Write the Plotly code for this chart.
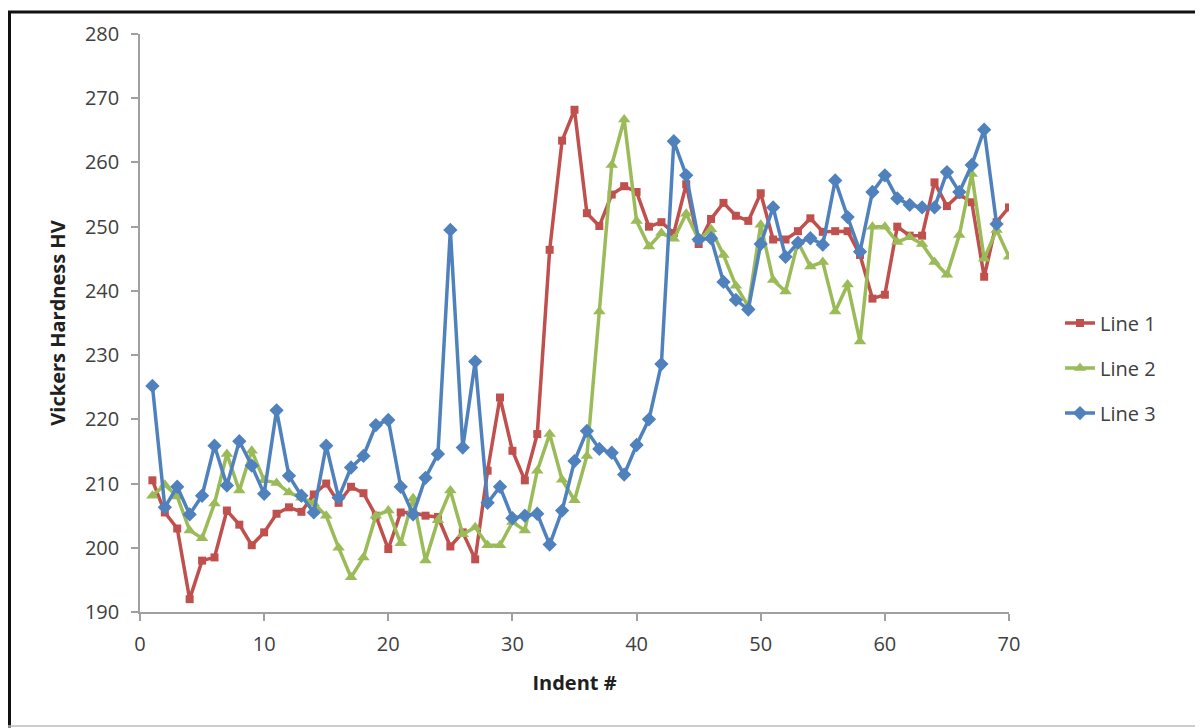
import plotly.graph_objects as go

indent = list(range(1, 71))

line1 = [210.5, 205.5, 203.0, 192.0, 198.0, 198.5, 205.8, 203.6, 200.4, 202.4,
         205.3, 206.3, 205.6, 208.3, 210.0, 207.0, 209.5, 208.5, 205.0, 199.8,
         205.5, 205.5, 205.0, 204.8, 200.2, 202.4, 198.2, 212.0, 223.4, 215.1,
         210.5, 217.7, 246.4, 263.4, 268.2, 252.1, 250.1, 255.0, 256.3, 255.4,
         250.0, 250.7, 249.0, 256.6, 247.3, 251.2, 253.7, 251.7, 250.9, 255.2,
         248.0, 248.0, 249.3, 251.3, 249.2, 249.3, 249.3, 245.6, 238.8, 239.4,
         250.0, 248.6, 248.6, 256.9, 253.2, 255.0, 253.8, 242.2, 250.7, 253.0]

line2 = [208.1, 209.8, 208.0, 202.7, 201.5, 206.9, 214.6, 208.9, 215.1, 210.5,
         210.1, 208.6, 207.8, 206.9, 205.0, 200.0, 195.4, 198.5, 205.0, 205.8,
         200.7, 207.7, 198.0, 204.3, 208.9, 202.1, 203.2, 200.4, 200.4, 204.0,
         202.7, 212.0, 217.7, 210.6, 207.4, 214.3, 236.8, 259.6, 266.7, 250.9,
         246.9, 249.0, 248.1, 252.0, 248.0, 249.6, 245.6, 240.8, 237.6, 250.3,
         241.7, 239.9, 247.6, 243.8, 244.5, 236.8, 241.0, 232.1, 250.0, 250.0,
         247.6, 248.4, 247.3, 244.5, 242.5, 248.7, 258.2, 245.0, 249.5, 245.3]

line3 = [225.2, 206.3, 209.5, 205.2, 208.1, 215.9, 209.7, 216.6, 212.8, 208.4,
         221.4, 211.2, 208.1, 205.5, 215.9, 207.8, 212.5, 214.3, 219.1, 219.9,
         209.5, 205.2, 210.9, 214.6, 249.5, 215.6, 229.0, 207.0, 209.5, 204.6,
         205.0, 205.3, 200.5, 205.8, 213.5, 218.2, 215.4, 214.8, 211.4, 216.0,
         220.0, 228.6, 263.3, 258.0, 248.0, 248.2, 241.4, 238.6, 237.1, 247.3,
         253.0, 245.3, 247.5, 248.2, 247.2, 257.2, 251.5, 246.1, 255.4, 258.0,
         254.4, 253.4, 253.0, 253.0, 258.5, 255.4, 259.6, 265.1, 250.4]

series_names = ["Line 1", "Line 2", "Line 3"]
colors = ["#C0504D", "#9BBB59", "#4F81BD"]
symbols = ["square", "triangle-up", "diamond"]
msizes = [8, 11, 11]

x_ticks = [0, 10, 20, 30, 40, 50, 60, 70]
y_ticks = [190, 200, 210, 220, 230, 240, 250, 260, 270, 280]

# the page places the figure 8px in from the top-left corner
OFF = 8
W, H = 1203 - OFF, 728 - OFF
L, T = 140 - OFF, 31 - OFF
R = W - (1009 - OFF)
B = H - (612 - OFF)
pw, ph = W - L - R, H - T - B

def px(X):
    return (X - L) / pw

def py(Y):
    return (H - B - Y) / ph

fig = go.Figure()
for name, ys, c, s, ms in zip(series_names, [line1, line2, line3], colors, symbols, msizes):
    fig.add_trace(go.Scatter(
        x=indent[:len(ys)], y=ys, name=name, mode="lines+markers",
        legendgroup=name,
        line=dict(color=c, width=3.5),
        marker=dict(symbol=s, size=ms, color=c, line=dict(width=0)),
    ))

font_family = "Open Sans, Liberation Sans, sans-serif"

fig.update_layout(
    width=W, height=H,
    margin=dict(l=L, r=R, t=T, b=B),
    paper_bgcolor="white", plot_bgcolor="white",
    font=dict(family=font_family, color="#404040", size=19),
    showlegend=True,
    legend=dict(
        x=px(1060 - OFF), y=py(302 - OFF), xanchor="left", yanchor="top",
        font=dict(size=20, color="#404040"),
        traceorder="grouped", tracegroupgap=16,
        bgcolor="rgba(0,0,0,0)",
    ),
    xaxis=dict(
        range=[0, 70], tickvals=x_ticks, ticks="outside", ticklen=7,
        tickcolor="#A0A0A0", tickwidth=1.5,
        showline=True, linecolor="#A0A0A0", linewidth=1.5,
        showgrid=False, zeroline=False, ticklabelstandoff=6,
        tickfont=dict(size=20, color="#404040"),
        title=dict(text="<b>Indent #</b>", font=dict(size=20, color="#202020"), standoff=20),
    ),
    yaxis=dict(
        range=[190, 280], tickvals=y_ticks, ticks="outside", ticklen=7,
        tickcolor="#A0A0A0", tickwidth=1.5,
        showline=True, linecolor="#A0A0A0", linewidth=1.5,
        showgrid=False, zeroline=False, ticklabelstandoff=8,
        tickfont=dict(size=20, color="#404040"),
        title=dict(text="<b>Vickers Hardness HV</b>", font=dict(size=20, color="#202020"), standoff=14),
    ),
)

# outer frame of the picture
fig.add_shape(type="line", xref="paper", yref="paper",
              x0=px(0), x1=px(W), y0=py(1), y1=py(1),
              line=dict(color="#111111", width=3))
fig.add_shape(type="line", xref="paper", yref="paper",
              x0=px(1.5), x1=px(1.5), y0=py(0), y1=py(H),
              line=dict(color="#111111", width=3))
fig.add_shape(type="line", xref="paper", yref="paper",
              x0=px(1199.5 - OFF), x1=px(1199.5 - OFF), y0=py(0), y1=py(H),
              line=dict(color="#9A9A9A", width=1.5))
fig.add_shape(type="line", xref="paper", yref="paper",
              x0=px(0), x1=px(W), y0=py(726.5 - OFF), y1=py(726.5 - OFF),
              line=dict(color="#BBBBBB", width=1.5))

fig.write_html("out.html")
